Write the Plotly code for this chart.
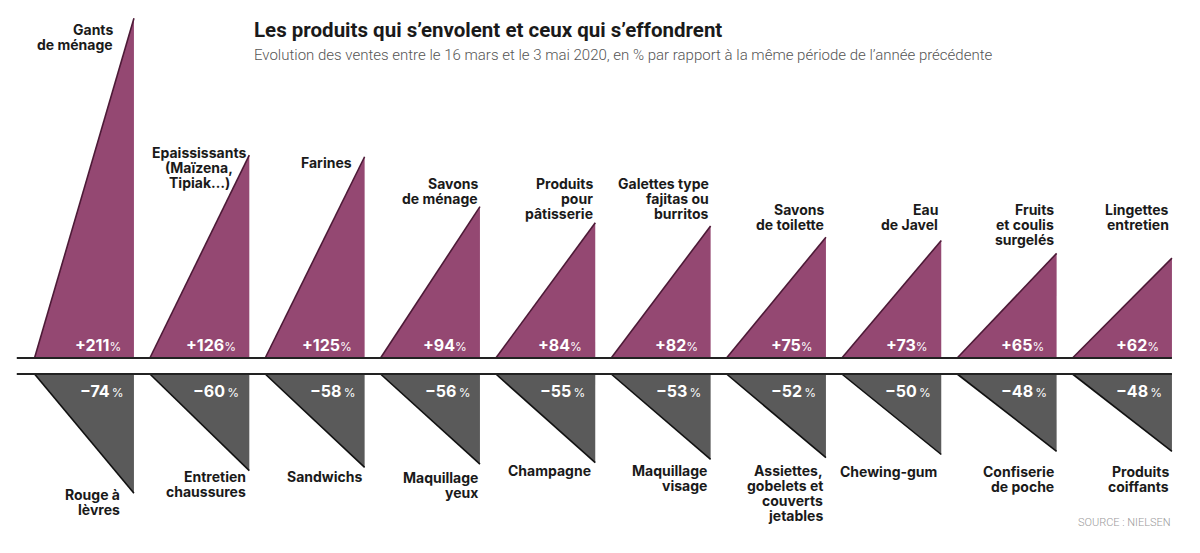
import plotly.graph_objects as go

# ---------------- data ----------------
up_labels = ["Gants\nde ménage", "Epaississants\n(Maïzena,\nTipiak…)", "Farines",
             "Savons\nde ménage", "Produits\npour\npâtisserie", "Galettes type\nfajitas ou\nburritos",
             "Savons\nde toilette", "Eau\nde Javel", "Fruits\net coulis\nsurgelés",
             "Lingettes\nentretien"]
up_values = [211, 126, 125, 94, 84, 82, 75, 73, 65, 62]

down_labels = ["Rouge à\nlèvres", "Entretien\nchaussures", "Sandwichs", "Maquillage\nyeux",
               "Champagne", "Maquillage\nvisage", "Assiettes,\ngobelets et\ncouverts\njetables",
               "Chewing-gum", "Confiserie\nde poche", "Produits\ncoiffants"]
down_values = [-74, -60, -58, -56, -55, -53, -52, -50, -48, -48]

title = "Les produits qui s’envolent et ceux qui s’effondrent"
subtitle = ("Evolution des ventes entre le 16 mars et le 3 mai 2020, en % par rapport "
            "à la même période de l’année précédente")
source = "SOURCE : NIELSEN"

# ---------------- layout / style ----------------
W, H = 1200, 553
X0, X1 = -0.7305, 9.6744
Y0, Y1 = -121.12, 222.36
HALF = 0.431          # half width of a triangle (column units)
GAP = 9.94            # gap between the two baselines (value units)
PURPLE = "#944872"
PURPLE_EDGE = "#4d1a37"
GREY = "#5a5a5a"
GREY_EDGE = "#111111"
LABEL_FONT = "Inter"


def px_y(p):
    return Y1 - p / H * (Y1 - Y0)


PX_PER_COL = W / (X1 - X0)

# label placement (pixels): first-line centre y, offset from triangle right edge, anchor
up_lab_y = [29, 152, 162, 183, 183, 183, 209, 209, 209, 209]
up_lab_dx = [-19, -50, -11, 0, 0, 0, 0, -1, -1, -1]
up_lab_anchor = ["right", "center", "right", "right", "right", "right", "right", "right", "right", "right"]
down_lab_y = [494, 476, 476, 477, 470, 470, 470, 471, 471, 471]
down_lab_dx = [-12, -1, -1, 0, -2, -2, -1, -2, -1, -1]
LINE_H = 15

fig = go.Figure()

n = len(up_values)
for i in range(n):
    v = up_values[i]
    fig.add_trace(go.Scatter(x=[i - HALF, i + HALF, i + HALF, i - HALF], y=[0, 0, v, 0],
                             mode="lines", fill="toself", fillcolor=PURPLE,
                             line=dict(width=0, color=PURPLE), hoverinfo="skip", showlegend=False))
    fig.add_trace(go.Scatter(x=[i - HALF, i + HALF], y=[0, v], mode="lines",
                             line=dict(width=1.6, color=PURPLE_EDGE), hoverinfo="skip", showlegend=False))
    d = down_values[i]
    fig.add_trace(go.Scatter(x=[i - HALF, i + HALF, i + HALF, i - HALF], y=[-GAP, -GAP, -GAP + d, -GAP],
                             mode="lines", fill="toself", fillcolor=GREY,
                             line=dict(width=0, color=GREY), hoverinfo="skip", showlegend=False))
    fig.add_trace(go.Scatter(x=[i - HALF, i + HALF], y=[-GAP, -GAP + d], mode="lines",
                             line=dict(width=1.6, color=GREY_EDGE), hoverinfo="skip", showlegend=False))

# baselines
base_x = [-0.585, n - 1 + HALF]
for yb in (0, -GAP):
    fig.add_trace(go.Scatter(x=base_x, y=[yb, yb], mode="lines",
                             line=dict(width=2, color="#222222"), hoverinfo="skip", showlegend=False))

ann = []
for i in range(n):
    right = i + HALF
    # category labels
    for j, line in enumerate(up_labels[i].split("\n")):
        ann.append(dict(x=right + up_lab_dx[i] / PX_PER_COL, y=px_y(up_lab_y[i] + j * LINE_H),
                        text=line, showarrow=False, xanchor=up_lab_anchor[i], yanchor="middle",
                        font=dict(family=LABEL_FONT, size=14, color="#1a1a1a", weight=700)))
    for j, line in enumerate(down_labels[i].split("\n")):
        ann.append(dict(x=right + down_lab_dx[i] / PX_PER_COL, y=px_y(down_lab_y[i] + j * LINE_H),
                        text=line, showarrow=False, xanchor="right", yanchor="middle",
                        font=dict(family=LABEL_FONT, size=14, color="#1a1a1a", weight=700)))
    # value labels
    ann.append(dict(x=right - 11 / PX_PER_COL, y=px_y(345),
                    text=f"<b>+{up_values[i]}</b><span style='font-size:12px'>%</span>",
                    showarrow=False, xanchor="right", yanchor="middle",
                    font=dict(family=LABEL_FONT, size=16, color="white")))
    ann.append(dict(x=right - 8 / PX_PER_COL, y=px_y(391),
                    text=f"<b>−{abs(down_values[i])}</b><span style='font-size:12px'>\u2009%</span>",
                    showarrow=False, xanchor="right", yanchor="middle",
                    font=dict(family=LABEL_FONT, size=16, color="white")))

ann.append(dict(xref="paper", yref="paper", x=252 / W, y=1 - 30 / H, text=title, showarrow=False,
                xanchor="left", yanchor="middle",
                font=dict(family="Roboto", size=20.5, color="#1a1a1a", weight=700)))
ann.append(dict(xref="paper", yref="paper", x=252 / W, y=1 - 55 / H, text=subtitle, showarrow=False,
                xanchor="left", yanchor="middle",
                font=dict(family="Roboto", size=15, color="#555555", weight=300)))
ann.append(dict(xref="paper", yref="paper", x=1173 / W, y=1 - 522 / H, text=source, showarrow=False,
                xanchor="right", yanchor="middle",
                font=dict(family="Roboto", size=11, color="#9a9a9a", weight=300)))

fig.update_layout(
    width=W, height=H, margin=dict(l=0, r=0, t=0, b=0),
    paper_bgcolor="white", plot_bgcolor="white",
    xaxis=dict(range=[X0, X1], visible=False, fixedrange=True),
    yaxis=dict(range=[Y0, Y1], visible=False, fixedrange=True),
    annotations=ann, showlegend=False,
)

fig.write_html("out.html", config={"displayModeBar": False},
               post_script="document.body.style.margin='0';document.body.style.overflow='hidden';")
